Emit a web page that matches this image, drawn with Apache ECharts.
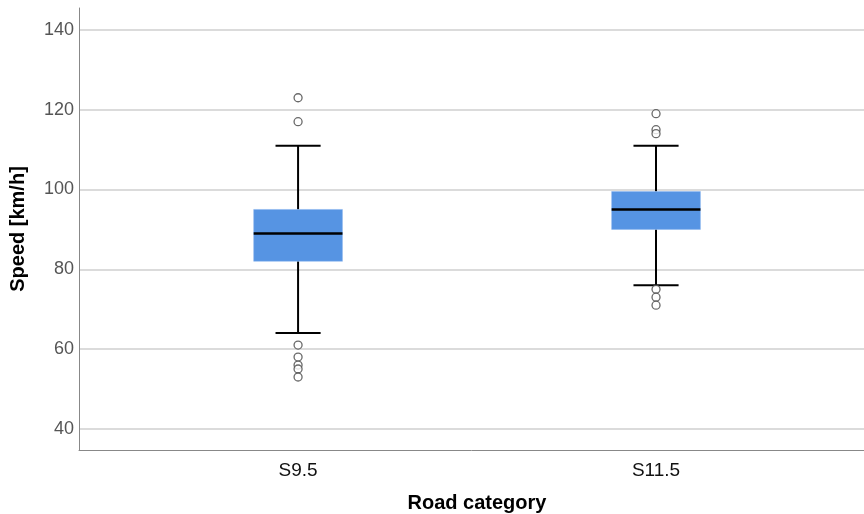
<!DOCTYPE html>
<html><head><meta charset="utf-8">
<script src="https://cdn.jsdelivr.net/npm/echarts@6/dist/echarts.min.js"></script>
<style>html,body{margin:0;padding:0;background:#fff}#c{width:864px;height:514px}</style>
</head><body><div id="c"></div>
<script>
const categories = ['S9.5', 'S11.5'];
// [lower whisker, Q1, median, Q3, upper whisker]
const boxStats = [
  [64, 82, 89, 95, 111],
  [76, 90, 95, 99.5, 111]
];
const outliersS95 = [123, 117, 61, 58, 56, 55, 53];
const outliersS115 = [119, 115, 114, 75, 73, 71];
const yTicks = [40, 60, 80, 100, 120, 140];

const boxData = boxStats.map((s, i) => [i].concat(s));
const outlierData = []
  .concat(outliersS95.map(v => [0, v]))
  .concat(outliersS115.map(v => [1, v]));

const chart = echarts.init(document.getElementById('c'), null, {renderer: 'canvas'});
const BOX_HALF = 0.124, CAP_HALF = 0.063;
const FONT = 'Liberation Sans, Arial, sans-serif';
chart.setOption({
  animation: false,
  backgroundColor: '#fff',
  grid: {left: 79, right: 0, top: 8, bottom: 64, containLabel: false, outerBoundsMode: 'none'},
  xAxis: {
    type: 'value', min: -0.612, max: 1.581,
    axisLine: {show: true, onZero: false, lineStyle: {color: '#888', width: 1}},
    axisTick: {show: false},
    splitLine: {show: false},
    axisLabel: {
      customValues: [0, 1], margin: 11, fontSize: 19, color: '#111', fontFamily: FONT,
      formatter: v => categories[Math.round(v)] || ''
    },
    name: 'Road category', nameLocation: 'middle', nameGap: 43,
    nameTextStyle: {fontSize: 20, fontWeight: 'bold', color: '#000', fontFamily: FONT, padding: [0, 0, 0, 11]}
  },
  yAxis: {
    type: 'value', min: 34.7, max: 145.5,
    axisLine: {show: true, onZero: false, lineStyle: {color: '#888', width: 1}},
    axisTick: {show: false},
    splitLine: {show: true, showMinLine: false, showMaxLine: false, lineStyle: {color: '#cfcfcf', width: 1.5}},
    axisLabel: {
      customValues: yTicks, margin: 5, fontSize: 18, color: '#555', fontFamily: FONT
    },
    name: 'Speed [km/h]', nameLocation: 'middle', nameGap: 51,
    nameTextStyle: {fontSize: 20, fontWeight: 'bold', color: '#000', fontFamily: FONT}
  },
  series: [
    {
      type: 'custom',
      data: boxData,
      encode: {x: 0, y: [1, 2, 3, 4, 5]},
      renderItem: function (params, api) {
        const x = api.value(0);
        const lo = api.value(1), q1 = api.value(2), med = api.value(3), q3 = api.value(4), hi = api.value(5);
        const pQ3L = api.coord([x - BOX_HALF, q3]);
        const pQ1R = api.coord([x + BOX_HALF, q1]);
        const pMedL = api.coord([x - BOX_HALF, med]);
        const pMedR = api.coord([x + BOX_HALF, med]);
        const pHi = api.coord([x, hi]);
        const pLo = api.coord([x, lo]);
        const pQ3 = api.coord([x, q3]);
        const pQ1 = api.coord([x, q1]);
        const capL = api.coord([x - CAP_HALF, hi])[0];
        const capR = api.coord([x + CAP_HALF, hi])[0];
        const ls = {stroke: '#000', lineWidth: 2};
        return {
          type: 'group',
          children: [
            {type: 'line', shape: {x1: pHi[0], y1: pHi[1], x2: pQ3[0], y2: pQ3[1]}, style: ls},
            {type: 'line', shape: {x1: pLo[0], y1: pLo[1], x2: pQ1[0], y2: pQ1[1]}, style: ls},
            {type: 'line', shape: {x1: capL, y1: pHi[1], x2: capR, y2: pHi[1]}, style: ls},
            {type: 'line', shape: {x1: capL, y1: pLo[1], x2: capR, y2: pLo[1]}, style: ls},
            {type: 'rect', shape: {x: pQ3L[0], y: pQ3L[1], width: pQ1R[0] - pQ3L[0], height: pQ1R[1] - pQ3L[1]},
              style: {fill: '#5694e3', stroke: '#8ab4ee', lineWidth: 0.5}},
            {type: 'line', shape: {x1: pMedL[0], y1: pMedL[1], x2: pMedR[0], y2: pMedR[1]}, style: {stroke: '#000', lineWidth: 2.5}}
          ]
        };
      }
    },
    {
      type: 'scatter',
      data: outlierData,
      symbol: 'circle',
      symbolSize: 8,
      itemStyle: {color: '#fff', borderColor: '#444', borderWidth: 1.3}
    }
  ]
});
</script>
</body></html>
